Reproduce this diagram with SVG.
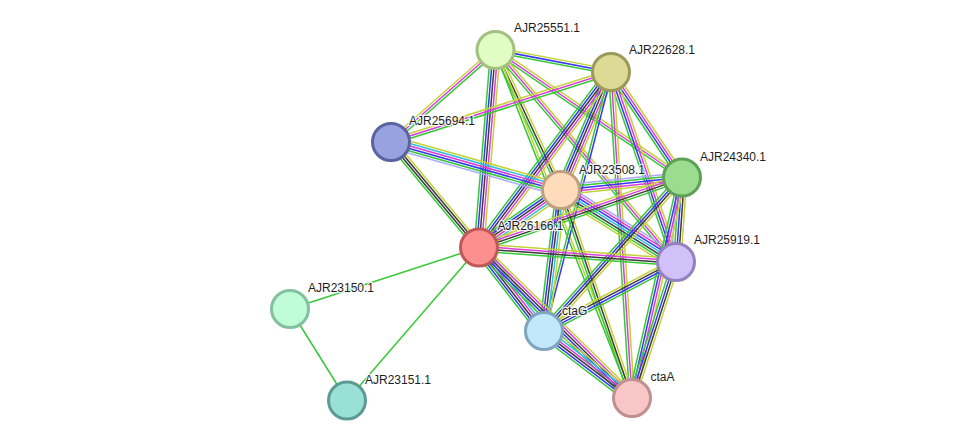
<svg xmlns="http://www.w3.org/2000/svg" width="976" height="446" viewBox="0 0 976 446">
<style>
.edges path{fill:none;stroke-width:1.5}
.y{stroke:#c4d23a}.c{stroke:#33bde0}.m{stroke:#dc3cdc}.k{stroke:#3c3c3c}.b{stroke:#3737f5}.g{stroke:#35c935}.l{stroke:#a9a9f7}
.n circle{stroke-width:3}
text{font-family:"Liberation Sans",Arial,sans-serif;font-size:12px;fill:#1e1e1e;stroke:#fff;stroke-width:2.5;stroke-opacity:.85;paint-order:stroke;stroke-linejoin:round}
</style>
<rect width="976" height="446" fill="#fff"/>
<g id="connectors" class="edges">
<g transform="translate(495.5 50) rotate(10.78)"><path class="y" d="M0-2.4H117.6"/><path class="b" d="M0 0H117.6"/><path class="g" d="M0 2.4H117.6"/></g>
<g transform="translate(391 142) rotate(-41.36)"><path class="y" d="M0-2.4H139.2"/><path class="m" d="M0 0H139.2"/><path class="g" d="M0 2.4H139.2"/></g>
<g transform="translate(495.5 50) rotate(64.93)"><path class="y" d="M0-2.4H154.6"/><path class="k" d="M0 0H154.6"/><path class="g" d="M0 2.4H154.6"/></g>
<g transform="translate(495.5 50) rotate(34.36)"><path class="y" d="M0-2.4H225.9"/><path class="m" d="M0 0H225.9"/><path class="g" d="M0 2.4H225.9"/></g>
<g transform="translate(495.5 50) rotate(94.78)"><path class="y" d="M0-4.8H198.2"/><path class="m" d="M0-2.4H198.2"/><path class="k" d="M0 0H198.2"/><path class="b" d="M0 2.4H198.2"/><path class="g" d="M0 4.8H198.2"/></g>
<g transform="translate(495.5 50) rotate(49.59)"><path class="y" d="M0-2.4H278.4"/><path class="m" d="M0 0H278.4"/><path class="g" d="M0 2.4H278.4"/></g>
<g transform="translate(495.5 50) rotate(68.58)"><path class="y" d="M0-1.2H373.8"/><path class="g" d="M0 1.2H373.8"/></g>
<g transform="translate(391 142) rotate(-17.65)"><path class="y" d="M0-2.4H230.9"/><path class="m" d="M0 0H230.9"/><path class="g" d="M0 2.4H230.9"/></g>
<g transform="translate(611 72) rotate(112.96)"><path class="y" d="M0-4.8H128.2"/><path class="m" d="M0-2.4H128.2"/><path class="k" d="M0 0H128.2"/><path class="b" d="M0 2.4H128.2"/><path class="g" d="M0 4.8H128.2"/></g>
<g transform="translate(611 72) rotate(56.06)"><path class="y" d="M0-3.6H127.2"/><path class="m" d="M0-1.2H127.2"/><path class="b" d="M0 1.2H127.2"/><path class="g" d="M0 3.6H127.2"/></g>
<g transform="translate(611 72) rotate(126.94)"><path class="y" d="M0-4.8H219.6"/><path class="m" d="M0-2.4H219.6"/><path class="k" d="M0 0H219.6"/><path class="b" d="M0 2.4H219.6"/><path class="g" d="M0 4.8H219.6"/></g>
<g transform="translate(611 72) rotate(71.11)"><path class="y" d="M0-3.6H200.8"/><path class="m" d="M0-1.2H200.8"/><path class="b" d="M0 1.2H200.8"/><path class="g" d="M0 3.6H200.8"/></g>
<g transform="translate(611 72) rotate(104.5)"><path class="b" d="M0-1.2H267.5"/><path class="g" d="M0 1.2H267.5"/></g>
<g transform="translate(611 72) rotate(86.31)"><path class="y" d="M0-2.4H326.7"/><path class="m" d="M0 0H326.7"/><path class="g" d="M0 2.4H326.7"/></g>
<g transform="translate(391 142) rotate(15.77)"><path class="y" d="M0-6H176.7"/><path class="c" d="M0-3.6H176.7"/><path class="m" d="M0-1.2H176.7"/><path class="b" d="M0 1.2H176.7"/><path class="g" d="M0 3.6H176.7"/><path class="l" d="M0 6H176.7"/></g>
<g transform="translate(391 142) rotate(50.17)"><path class="y" d="M0-3.6H137.4"/><path class="k" d="M0-1.2H137.4"/><path class="k" d="M0 1.2H137.4"/><path class="g" d="M0 3.6H137.4"/></g>
<g transform="translate(682 177.5) rotate(174.1)"><path class="y" d="M0-4.8H121.6"/><path class="m" d="M0-2.4H121.6"/><path class="b" d="M0 0H121.6"/><path class="g" d="M0 2.4H121.6"/><path class="l" d="M0 4.8H121.6"/></g>
<g transform="translate(561 190) rotate(144.96)"><path class="y" d="M0-6H100.2"/><path class="c" d="M0-3.6H100.2"/><path class="m" d="M0-1.2H100.2"/><path class="k" d="M0 1.2H100.2"/><path class="b" d="M0 3.6H100.2"/><path class="g" d="M0 6H100.2"/></g>
<g transform="translate(561 190) rotate(32.05)"><path class="l" d="M0-7.2H135.7"/><path class="m" d="M0-4.8H135.7"/><path class="b" d="M0-2.4H135.7"/><path class="c" d="M0 0H135.7"/><path class="k" d="M0 2.4H135.7"/><path class="g" d="M0 4.8H135.7"/><path class="y" d="M0 7.2H135.7"/></g>
<g transform="translate(561 190) rotate(96.87)"><path class="y" d="M0-4.8H142"/><path class="c" d="M0-2.4H142"/><path class="k" d="M0 0H142"/><path class="b" d="M0 2.4H142"/><path class="g" d="M0 4.8H142"/></g>
<g transform="translate(561 190) rotate(71.15)"><path class="y" d="M0-2.4H219.8"/><path class="k" d="M0 0H219.8"/><path class="g" d="M0 2.4H219.8"/></g>
<g transform="translate(479 247.5) rotate(-19.03)"><path class="y" d="M0-3.6H214.7"/><path class="m" d="M0-1.2H214.7"/><path class="k" d="M0 1.2H214.7"/><path class="g" d="M0 3.6H214.7"/></g>
<g transform="translate(682 177.5) rotate(94.06)"><path class="y" d="M0-4.8H84.7"/><path class="k" d="M0-2.4H84.7"/><path class="b" d="M0 0H84.7"/><path class="g" d="M0 2.4H84.7"/><path class="l" d="M0 4.8H84.7"/></g>
<g transform="translate(682 177.5) rotate(131.96)"><path class="y" d="M0-3.6H206.4"/><path class="k" d="M0-1.2H206.4"/><path class="b" d="M0 1.2H206.4"/><path class="g" d="M0 3.6H206.4"/></g>
<g transform="translate(682 177.5) rotate(102.78)"><path class="y" d="M0-3.6H226.1"/><path class="m" d="M0-1.2H226.1"/><path class="b" d="M0 1.2H226.1"/><path class="g" d="M0 3.6H226.1"/></g>
<g transform="translate(479 247.5) rotate(4.21)"><path class="y" d="M0-3.6H197.5"/><path class="m" d="M0-1.2H197.5"/><path class="k" d="M0 1.2H197.5"/><path class="g" d="M0 3.6H197.5"/></g>
<g transform="translate(479 247.5) rotate(52.1)"><path class="y" d="M0-6H105.8"/><path class="c" d="M0-3.6H105.8"/><path class="m" d="M0-1.2H105.8"/><path class="k" d="M0 1.2H105.8"/><path class="b" d="M0 3.6H105.8"/><path class="g" d="M0 6H105.8"/></g>
<g transform="translate(479 247.5) rotate(44.53)"><path class="y" d="M0-4.8H214.6"/><path class="m" d="M0-2.4H214.6"/><path class="k" d="M0 0H214.6"/><path class="b" d="M0 2.4H214.6"/><path class="g" d="M0 4.8H214.6"/></g>
<g transform="translate(544 331) rotate(-27.6)"><path class="y" d="M0-3.6H149"/><path class="k" d="M0-1.2H149"/><path class="b" d="M0 1.2H149"/><path class="g" d="M0 3.6H149"/></g>
<g transform="translate(676 262) rotate(107.93)"><path class="y" d="M0-3.6H142.9"/><path class="k" d="M0-1.2H142.9"/><path class="b" d="M0 1.2H142.9"/><path class="g" d="M0 3.6H142.9"/></g>
<g transform="translate(544 331) rotate(37.29)"><path class="y" d="M0-6H110.6"/><path class="c" d="M0-3.6H110.6"/><path class="m" d="M0-1.2H110.6"/><path class="k" d="M0 1.2H110.6"/><path class="b" d="M0 3.6H110.6"/><path class="g" d="M0 6H110.6"/></g>
<path class="g" d="M479 247.5L290 309"/>
<path class="g" d="M479 247.5L347 400.5"/>
<path class="g" d="M290 309L347 400.5"/>
</g>
<g id="n-AJR25551" class="n"><circle cx="495.5" cy="50" r="18.5" fill="#e1fdc4" stroke="#a3c081"/><text x="514" y="32">AJR25551.1</text></g>
<g id="n-AJR22628" class="n"><circle cx="611" cy="72" r="18.5" fill="#ddda95" stroke="#9c9a5a"/><text x="629" y="54">AJR22628.1</text></g>
<g id="n-AJR25694" class="n"><circle cx="391" cy="142" r="18.5" fill="#98a2de" stroke="#5a64a0"/><text x="409" y="125">AJR25694.1</text></g>
<g id="n-AJR23508" class="n"><circle cx="561" cy="190" r="18.5" fill="#fedcbb" stroke="#bfa080"/><text x="579" y="173.5">AJR23508.1</text></g>
<g id="n-AJR24340" class="n"><circle cx="682" cy="177.5" r="18.5" fill="#9bdc91" stroke="#5ea055"/><text x="700" y="161">AJR24340.1</text></g>
<g id="n-AJR26166" class="n"><circle cx="479" cy="247.5" r="18.5" fill="#fe8f8f" stroke="#c05858"/><text x="497.5" y="230">AJR26166.1</text></g>
<g id="n-AJR25919" class="n"><circle cx="676" cy="262" r="18.5" fill="#d1c1f8" stroke="#9282c0"/><text x="694" y="244">AJR25919.1</text></g>
<g id="n-AJR23150" class="n"><circle cx="290" cy="309" r="18.5" fill="#c1fcd9" stroke="#83c0a0"/><text x="308" y="292">AJR23150.1</text></g>
<g id="n-ctaG" class="n"><circle cx="544" cy="331" r="18.5" fill="#c1e8fc" stroke="#7fa4bd"/><text x="562" y="314.5">ctaG</text></g>
<g id="n-AJR23151" class="n"><circle cx="347" cy="400.5" r="18.5" fill="#99e0d6" stroke="#5c9a92"/><text x="365" y="383.5">AJR23151.1</text></g>
<g id="n-ctaA" class="n"><circle cx="632" cy="398" r="18.5" fill="#f8c6c6" stroke="#c09090"/><text x="650.5" y="381">ctaA</text></g>
</svg>
